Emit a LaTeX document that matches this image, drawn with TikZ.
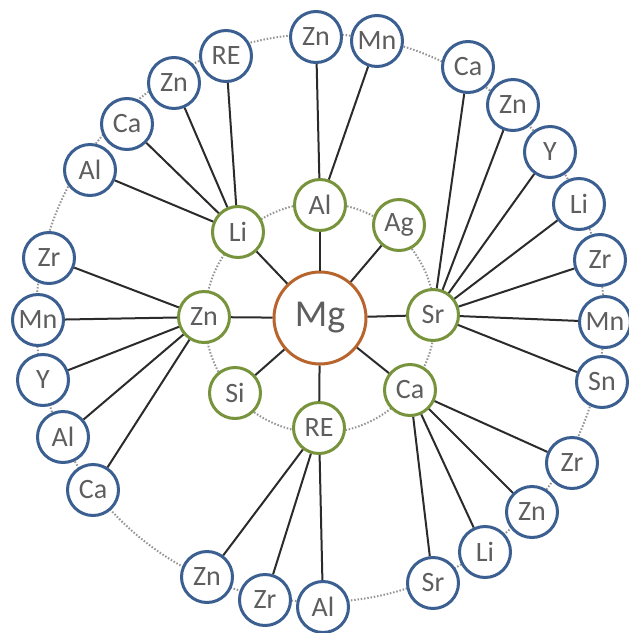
\documentclass[tikz,border=0pt]{standalone}
\usepackage{fontspec}
\setmainfont{Carlito}
\usepackage{tikz}
\definecolor{mgOrange}{HTML}{B8652D}
\definecolor{subGreen}{HTML}{77933C}
\definecolor{elemBlue}{HTML}{3A5F90}
\definecolor{labelGray}{HTML}{5E5E5E}
\definecolor{ringGray}{HTML}{959595}
\definecolor{linkBlack}{HTML}{2B2B2B}
\tikzstyle{basenode}=[circle, fill=white, line width=3pt, inner sep=0pt, text=labelGray]
\tikzstyle{mgnode}=[basenode, draw=mgOrange, minimum size=92pt, font=\fontsize{38}{38}\selectfont]
\tikzstyle{subnode}=[basenode, draw=subGreen, minimum size=51pt, font=\fontsize{28}{28}\selectfont]
\tikzstyle{elemnode}=[basenode, draw=elemBlue, minimum size=51pt, font=\fontsize{28}{28}\selectfont]
\tikzstyle{link}=[linkBlack, line width=2pt]
\tikzstyle{ring}=[ringGray, line width=2pt, dash pattern=on 1.5pt off 1.8pt]

\begin{document}
\begin{tikzpicture}[x=1pt, y=-1pt]
  \def\cx{320};
  \def\cy{318};
  \useasboundingbox (0,0) rectangle (629,633);

  % 点線の輪
  \draw[ring] (\cx,\cy) circle [radius=115pt];
  \draw[ring] (\cx,\cy) circle [radius=284pt];

  % 中心
  \node[mgnode] (mg) at (\cx,\cy) {Mg};

  % 内側の元素
  \node[subnode] (al) at (320,205) {Al};
  \node[subnode] (ag) at (399,225) {Ag};
  \node[subnode] (sr) at (433,315) {Sr};
  \node[subnode] (ca) at (410,390) {Ca};
  \node[subnode] (re) at (319,428) {RE};
  \node[subnode] (si) at (235,393) {Si};
  \node[subnode] (zn) at (204,317) {Zn};
  \node[subnode] (li) at (238,232) {Li};

  % 外側の元素
  \node[elemnode] (alZn) at (316,37) {Zn};
  \node[elemnode] (alMn) at (377,41) {Mn};
  \node[elemnode] (liRE) at (226,56) {RE};
  \node[elemnode] (liZn) at (174,83) {Zn};
  \node[elemnode] (liCa) at (127,124) {Ca};
  \node[elemnode] (liAl) at (90,170) {Al};
  \node[elemnode] (znZr) at (49,258) {Zr};
  \node[elemnode] (znMn) at (38,320) {Mn};
  \node[elemnode] (znY) at (43,380) {Y};
  \node[elemnode] (znAl) at (63,437) {Al};
  \node[elemnode] (znCa) at (93,490) {Ca};
  \node[elemnode] (reZn) at (207,577) {Zn};
  \node[elemnode] (reZr) at (265,600) {Zr};
  \node[elemnode] (reAl) at (323,607) {Al};
  \node[elemnode] (caSr) at (433,583) {Sr};
  \node[elemnode] (caLi) at (485,552) {Li};
  \node[elemnode] (caZn) at (532,512) {Zn};
  \node[elemnode] (caZr) at (572,463) {Zr};
  \node[elemnode] (srSn) at (602,382) {Sn};
  \node[elemnode] (srMn) at (605,322) {Mn};
  \node[elemnode] (srZr) at (600,260) {Zr};
  \node[elemnode] (srLi) at (579,204) {Li};
  \node[elemnode] (srY) at (550,152) {Y};
  \node[elemnode] (srZn) at (513,105) {Zn};
  \node[elemnode] (srCa) at (468,67) {Ca};

  % Mgからの線
  \foreach \n in {al,ag,sr,ca,re,si,zn,li}
    \draw[link] (mg) -- (\n);

  % 内側から外側への線
  \foreach \n in {alZn,alMn}
    \draw[link] (al) -- (\n);
  \foreach \n in {liRE,liZn,liCa,liAl}
    \draw[link] (li) -- (\n);
  \foreach \n in {znZr,znMn,znY,znAl,znCa}
    \draw[link] (zn) -- (\n);
  \foreach \n in {reZn,reZr,reAl}
    \draw[link] (re) -- (\n);
  \foreach \n in {caSr,caLi,caZn,caZr}
    \draw[link] (ca) -- (\n);
  \foreach \n in {srSn,srMn,srZr,srLi,srY,srZn,srCa}
    \draw[link] (sr) -- (\n);
\end{tikzpicture}
\end{document}
